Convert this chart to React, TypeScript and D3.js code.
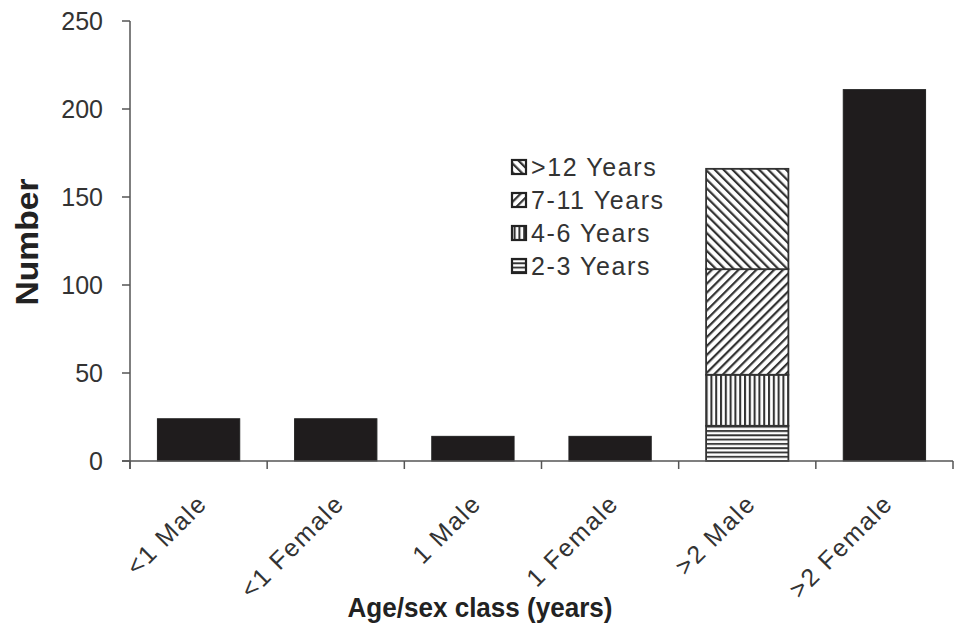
import React from "react";
import * as d3 from "d3";

const categories = ["<1 Male", "<1 Female", "1 Male", "1 Female", ">2 Male", ">2 Female"];
const totals = [24, 24, 14, 14, 166, 211];
const stackedCategory = ">2 Male";
const ageClasses = ["2-3 Years", "4-6 Years", "7-11 Years", ">12 Years"];
const ageValues = [20, 29, 60, 57];
const yTicks = [0, 50, 100, 150, 200, 250];
const patternIds = ["pHoriz", "pVert", "pSlash", "pBack"];

const W = 960;
const H = 624;
const FONT = "'Liberation Sans', Arial, Helvetica, sans-serif";

export default function App() {
  const x = d3.scaleBand<string>().domain(categories).range([130, 953]).paddingInner(0.4).paddingOuter(0.2);
  const y = d3.scaleLinear().domain([0, 250]).range([461, 21]);
  const step = x.step();

  const row: Record<string, number> = {};
  ageClasses.forEach((a, i) => (row[a] = ageValues[i]));
  const stack = d3.stack<Record<string, number>>().keys(ageClasses)([row]);

  const legendOrder = [...ageClasses].reverse();
  const axisColor = "#555";
  const barStroke = "#333";

  return (
    <svg width={W} height={H} style={{ position: "absolute", left: 0, top: 0, background: "#fff" }}>
      <defs>
        <pattern id="pHoriz" patternUnits="userSpaceOnUse" width={6} height={4.3}>
          <rect width={6} height={4.3} fill="#fff" />
          <line x1={0} y1={1} x2={6} y2={1} stroke="#333" strokeWidth={1.9} />
        </pattern>
        <pattern id="pVert" patternUnits="userSpaceOnUse" width={4.8} height={6}>
          <rect width={4.8} height={6} fill="#fff" />
          <line x1={1} y1={0} x2={1} y2={6} stroke="#333" strokeWidth={2.1} />
        </pattern>
        <pattern id="pSlash" patternUnits="userSpaceOnUse" width={6.3} height={6.3} patternTransform="rotate(45)">
          <rect width={6.3} height={6.3} fill="#fff" />
          <line x1={1} y1={0} x2={1} y2={6.3} stroke="#333" strokeWidth={2.4} />
        </pattern>
        <pattern id="pBack" patternUnits="userSpaceOnUse" width={6.3} height={6.3} patternTransform="rotate(-45)">
          <rect width={6.3} height={6.3} fill="#fff" />
          <line x1={1} y1={0} x2={1} y2={6.3} stroke="#333" strokeWidth={2.4} />
        </pattern>
      </defs>

      {/* solid bars */}
      {categories.map((c, i) =>
        c === stackedCategory ? null : (
          <rect
            key={c}
            x={x(c)}
            y={y(totals[i])}
            width={x.bandwidth()}
            height={y(0) - y(totals[i])}
            fill="#1f1c1d"
            stroke="#222"
            strokeWidth={1}
          />
        )
      )}

      {/* stacked bar */}
      {stack.map((s, i) => (
        <rect
          key={s.key}
          x={x(stackedCategory)}
          y={y(s[0][1])}
          width={x.bandwidth()}
          height={y(s[0][0]) - y(s[0][1])}
          fill={`url(#${patternIds[i]})`}
          stroke={barStroke}
          strokeWidth={1.8}
        />
      ))}

      {/* y axis */}
      <line x1={130} y1={y(250)} x2={130} y2={469} stroke={axisColor} strokeWidth={1.5} />
      {yTicks.map((t) => (
        <g key={t}>
          <line x1={122} x2={130} y1={y(t)} y2={y(t)} stroke={axisColor} strokeWidth={1.5} />
          <text x={103} y={y(t)} dy="0.36em" textAnchor="end" fontFamily={FONT} fontSize={25} fill="#333">
            {t}
          </text>
        </g>
      ))}

      {/* x axis */}
      <line x1={122} y1={y(0)} x2={953} y2={y(0)} stroke={axisColor} strokeWidth={1.5} />
      {d3.range(categories.length + 1).map((i) => (
        <line key={i} x1={130 + i * step} x2={130 + i * step} y1={y(0)} y2={469} stroke={axisColor} strokeWidth={1.5} />
      ))}
      {categories.map((c) => {
        const cx = (x(c) as number) + x.bandwidth() / 2;
        return (
          <text
            key={c}
            transform={`translate(${cx + 10},${505}) rotate(-45)`}
            textAnchor="end"
            fontFamily={FONT}
            fontSize={25}
            letterSpacing={1.7}
            fill="#333"
          >
            {c}
          </text>
        );
      })}

      {/* legend */}
      {legendOrder.map((a, i) => {
        const idx = ageClasses.indexOf(a);
        const cy = 167 + i * 33;
        return (
          <g key={a}>
            <rect x={512} y={cy - 7} width={14} height={14} fill={`url(#${patternIds[idx]})`} stroke="#222" strokeWidth={2.2} />
            <text x={531} y={cy} dy="0.36em" fontFamily={FONT} fontSize={25} letterSpacing={1.6} fill="#333">
              {a}
            </text>
          </g>
        );
      })}

      {/* axis titles */}
      <text
        transform={`translate(38,242) rotate(-90)`}
        textAnchor="middle"
        fontFamily={FONT}
        fontWeight="bold"
        fontSize={31}
        textLength={127}
        lengthAdjust="spacingAndGlyphs"
        fill="#222"
      >
        Number
      </text>
      <text x={480} y={617} textAnchor="middle" fontFamily={FONT} fontWeight="bold" fontSize={28} textLength={265} lengthAdjust="spacingAndGlyphs" fill="#222">
        Age/sex class (years)
      </text>
    </svg>
  );
}
